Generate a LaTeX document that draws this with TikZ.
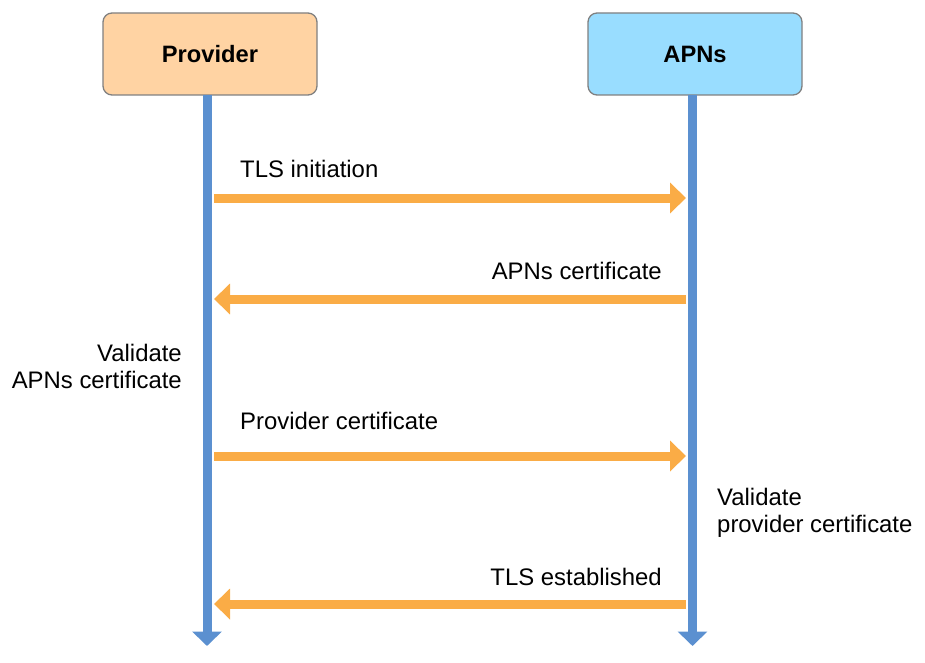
\documentclass[tikz,border=0pt]{standalone}
\usepackage{fontspec}
\setmainfont{Liberation Sans}
\usetikzlibrary{arrows.meta}
\definecolor{peach}{HTML}{FFD3A3}
\definecolor{skyb}{HTML}{99DDFF}
\definecolor{lifeblue}{HTML}{5B90D0}
\definecolor{msgorange}{HTML}{FAAC46}
\definecolor{boxgray}{HTML}{808080}
\begin{document}
\begin{tikzpicture}[x=1pt,y=-1pt,
  actor/.style={draw=boxgray,line width=1.3pt,rounded corners=9pt,minimum width=214pt,minimum height=82pt,inner sep=0pt,font=\fontsize{23.7}{27}\selectfont\bfseries},
  lifeline/.style={draw=lifeblue,line width=9pt,-{Triangle[length=14.5pt,width=29pt]}},
  msg/.style={draw=msgorange,line width=9pt,-{Triangle[length=16pt,width=30pt]}},
  lbl/.style={inner sep=0pt,font=\fontsize{23.9}{27}\selectfont}]
\useasboundingbox (0,0) rectangle (925,663);
\node[actor,fill=peach] (prov) at (210,54) {Provider};
\node[actor,fill=skyb] (apns) at (695,54) {APNs};
\coordinate (pt) at (207,95);
\coordinate (pb) at (207,646);
\coordinate (at) at (692.5,95);
\coordinate (ab) at (692.5,646);
\draw[lifeline] (pt) -- (pb);
\draw[lifeline] (at) -- (ab);
\coordinate (m1a) at (214,198); \coordinate (m1b) at (686,198);
\coordinate (m2a) at (686,299); \coordinate (m2b) at (214,299);
\coordinate (m3a) at (214,456); \coordinate (m3b) at (686,456);
\coordinate (m4a) at (686,604); \coordinate (m4b) at (214,604);
\draw[msg] (m1a) -- (m1b);
\draw[msg] (m2a) -- (m2b);
\draw[msg] (m3a) -- (m3b);
\draw[msg] (m4a) -- (m4b);
\node[lbl,anchor=base west] (l1) at (240,177) {TLS initiation};
\node[lbl,anchor=base east] (l2) at (662,279) {APNs certificate};
\node[lbl,anchor=north east,align=right] (l3) at (182,344) {Validate\\APNs certificate};
\node[lbl,anchor=base west] (l4) at (240,429) {Provider certificate};
\node[lbl,anchor=north west,align=left] (l5) at (717,488) {Validate\\provider certificate};
\node[lbl,anchor=base east] (l6) at (662,585) {TLS established};
\end{tikzpicture}
\end{document}
